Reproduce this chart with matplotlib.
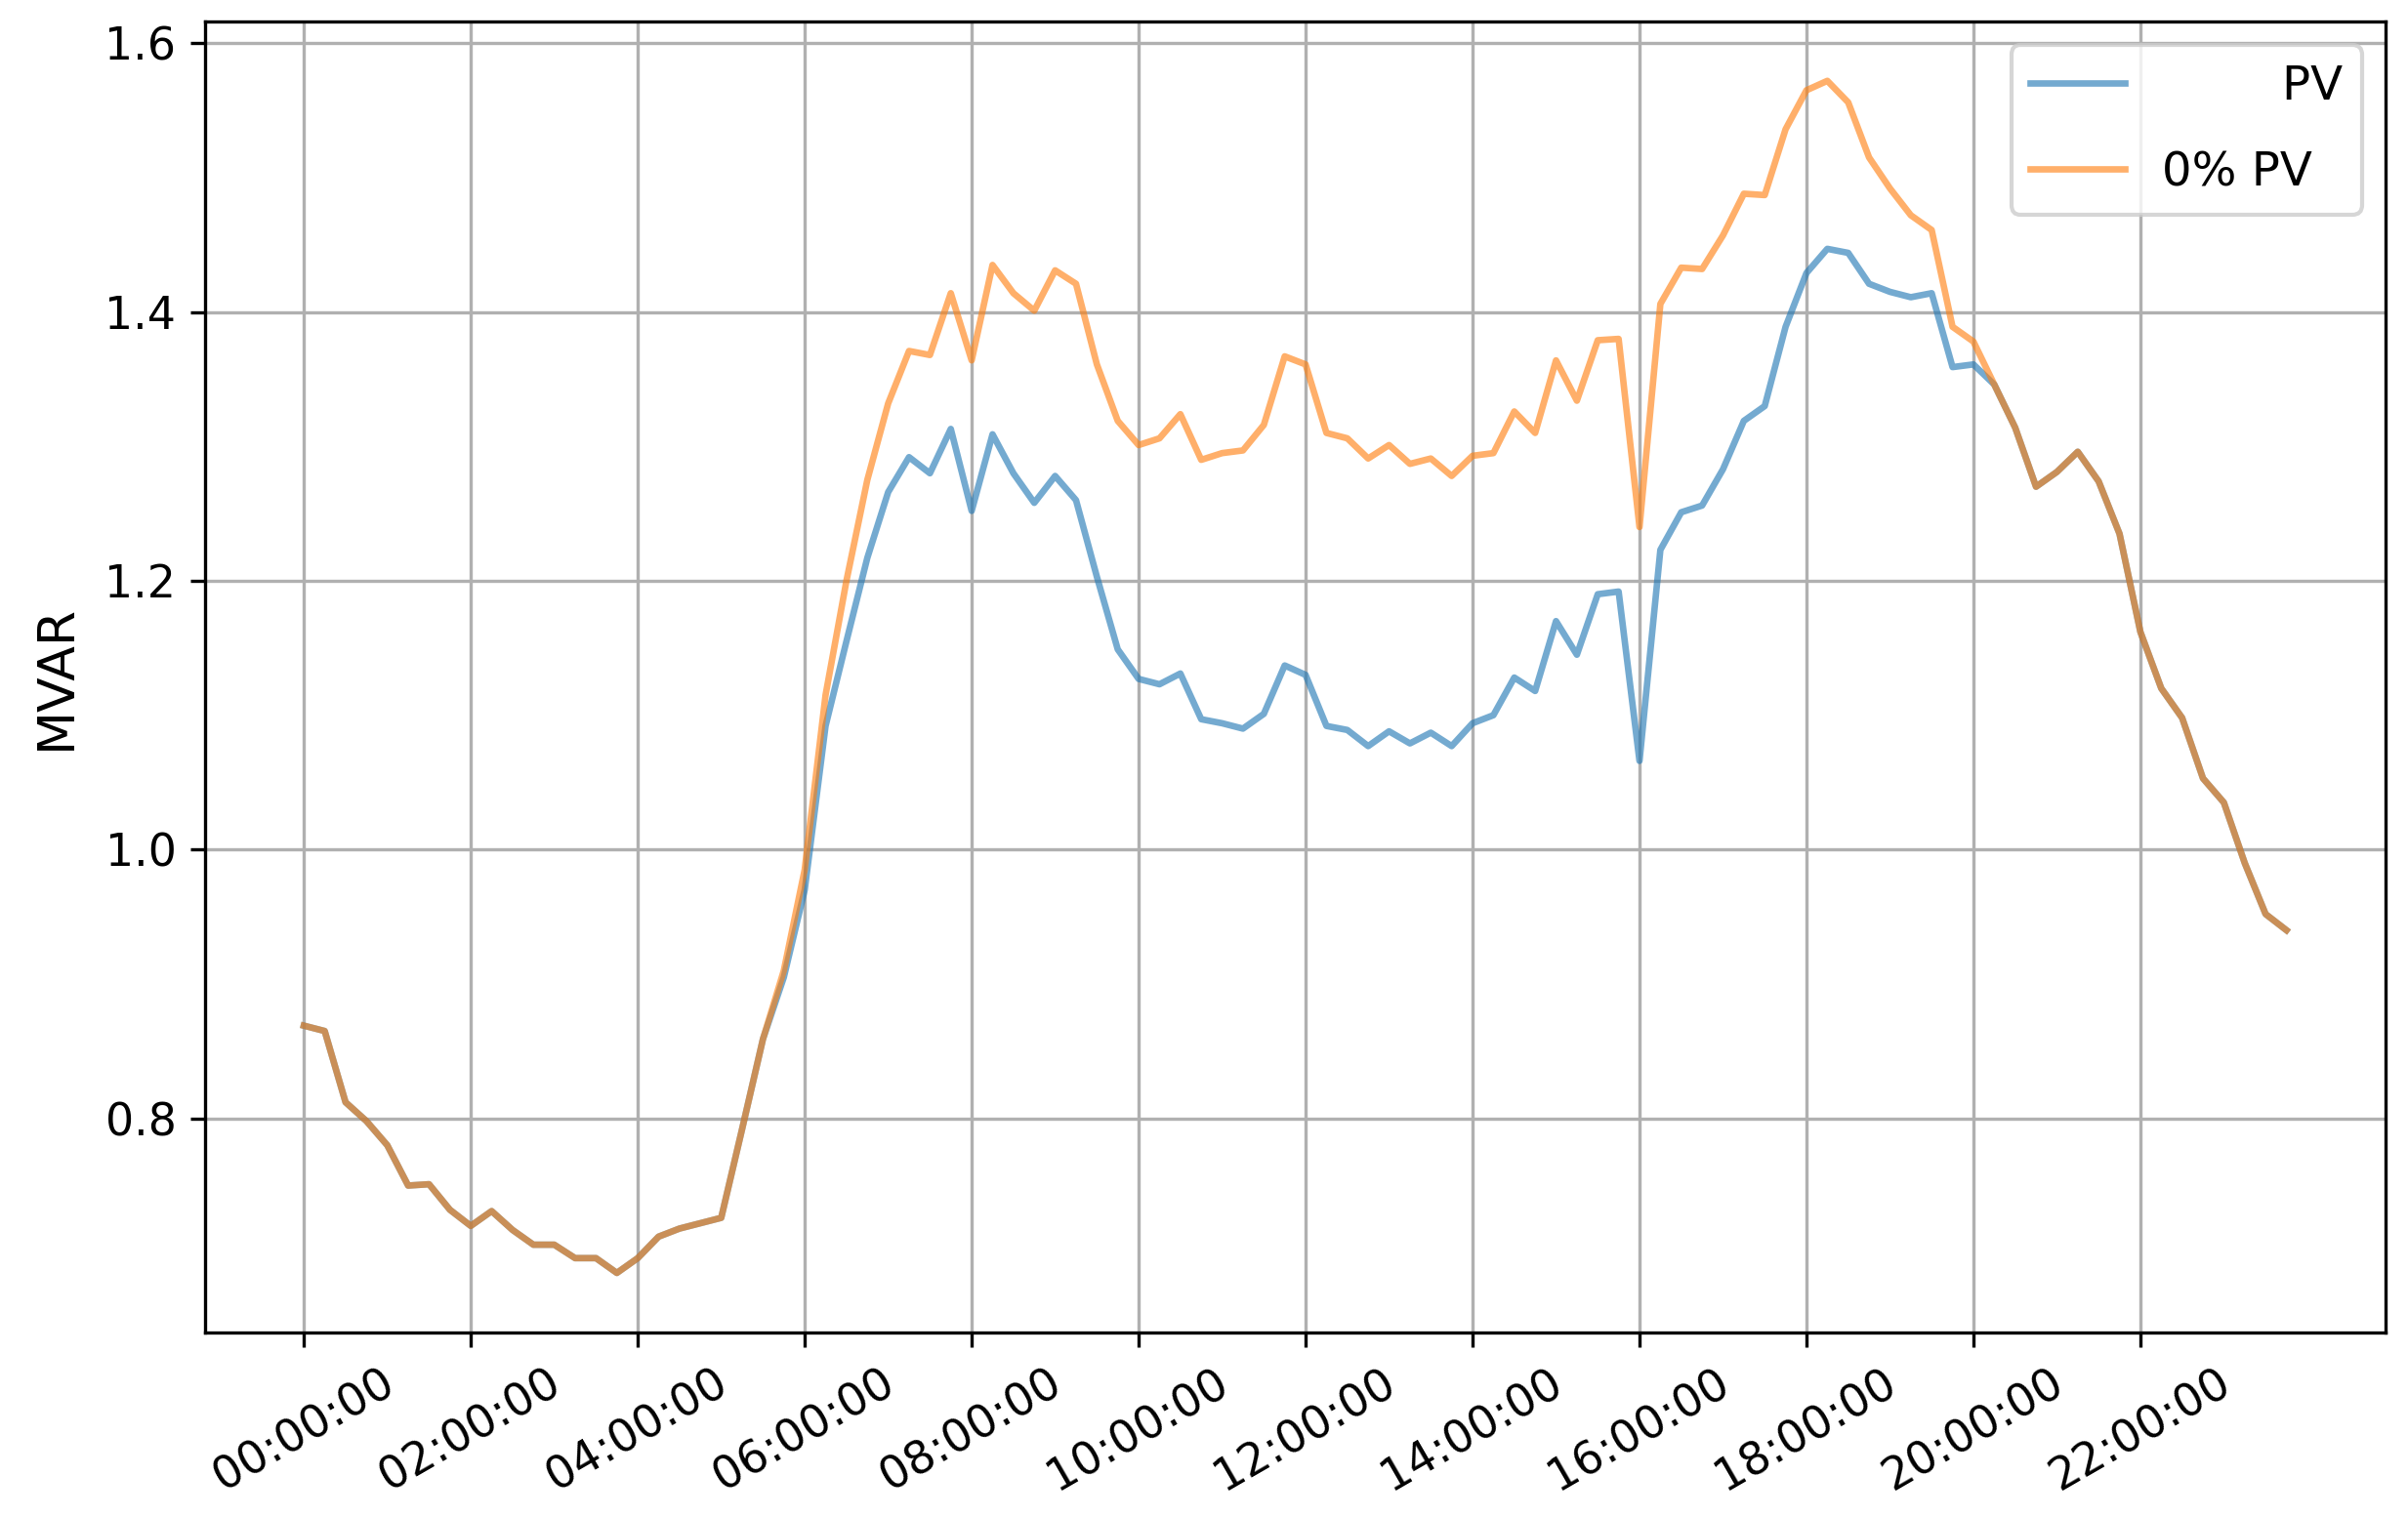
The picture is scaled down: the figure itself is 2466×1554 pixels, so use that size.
import matplotlib
matplotlib.use("Agg")
import matplotlib.pyplot as plt
import matplotlib.dates as mdates
import numpy as np
import pandas as pd

# 15-minute samples over one day
times = pd.date_range("2020-01-01 00:00", periods=96, freq="15min")

# night hours: both cases identical (00:00 - 05:30)
night = [0.869, 0.865, 0.812, 0.798, 0.780, 0.750, 0.751, 0.732, 0.720, 0.731,
         0.717, 0.706, 0.706, 0.696, 0.696, 0.685, 0.696, 0.712, 0.718, 0.722,
         0.726, 0.792, 0.859]

# daytime (05:45 - 20:00), with PV
pv_day = [0.905, 0.970, 1.092, 1.155, 1.217, 1.266, 1.292, 1.280, 1.313, 1.252,
          1.309, 1.280, 1.258, 1.278, 1.260, 1.203, 1.149, 1.127, 1.123, 1.131,
          1.097, 1.094, 1.090, 1.101, 1.137, 1.130, 1.092, 1.089, 1.077, 1.088,
          1.079, 1.087, 1.077, 1.094, 1.100, 1.128, 1.118, 1.170, 1.145, 1.190,
          1.192, 1.066, 1.223, 1.251, 1.256, 1.283, 1.319, 1.330, 1.389, 1.429,
          1.447, 1.444, 1.421, 1.415, 1.411, 1.414, 1.359, 1.361]

# daytime (05:45 - 20:00), 0% PV
nopv_day = [0.910, 0.985, 1.115, 1.200, 1.275, 1.332, 1.371, 1.368, 1.414, 1.364,
            1.435, 1.414, 1.401, 1.431, 1.421, 1.361, 1.319, 1.301, 1.306, 1.324,
            1.290, 1.295, 1.297, 1.316, 1.367, 1.361, 1.310, 1.306, 1.291, 1.301,
            1.287, 1.291, 1.278, 1.293, 1.295, 1.326, 1.310, 1.364, 1.334, 1.379,
            1.380, 1.240, 1.406, 1.433, 1.432, 1.457, 1.488, 1.487, 1.536, 1.565,
            1.572, 1.556, 1.515, 1.492, 1.472, 1.461, 1.389, 1.378]

# evening (20:15 - 23:45): identical again
evening = [1.346, 1.314, 1.270, 1.281, 1.296, 1.274, 1.235, 1.162, 1.120, 1.098,
           1.053, 1.035, 0.990, 0.952, 0.940]

pv = np.array(night + pv_day + evening)
no_pv = np.array(night + nopv_day + evening)

plt.rcParams["font.family"] = ["DejaVu Sans"]
plt.rcParams["font.size"] = 11

fig = plt.figure(figsize=(8.22, 5.18), dpi=300)
ax = fig.add_axes([0.085, 0.1216, 0.9057, 0.8644])

# first label is blanked in the reference except for "PV"
ax.plot(times, pv, color="tab:blue", alpha=0.62, lw=1.6, label="        PV")
ax.plot(times, no_pv, color="tab:orange", alpha=0.62, lw=1.6, label="0% PV")

# ticks every 2 h, only inside the day (no trailing 00:00 of next day)
ax.set_xticks(times[::8])
ax.xaxis.set_major_formatter(mdates.DateFormatter("%H:%M:%S"))
plt.setp(ax.get_xticklabels(), rotation=30, ha="center")
ax.set_yticks([0.8, 1.0, 1.2, 1.4, 1.6])
ax.set_ylabel("MVAR", fontsize=12.5, labelpad=6)
ax.grid(True, color="#b0b0b0", lw=0.8)
ax.legend(loc="upper right", fontsize=11.6, labelspacing=0.85, handlelength=2.0)

fig.savefig("out.png", dpi=300)
